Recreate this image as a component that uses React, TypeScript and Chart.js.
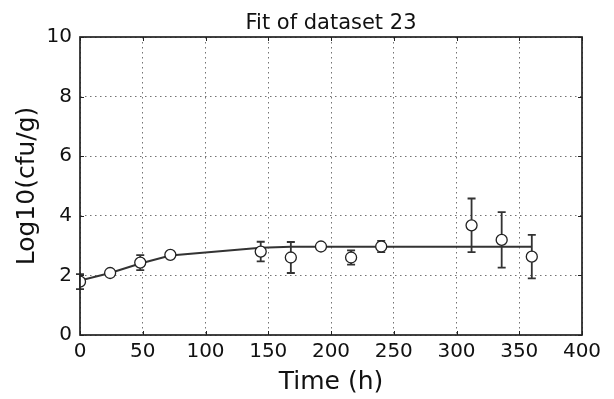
import React, { useEffect, useRef } from "react";
import { Chart, registerables } from "chart.js";

Chart.register(...registerables);

const times = [0, 24, 48, 72, 144, 168, 192, 216, 240, 312, 336, 360];
const observed = [1.79, 2.08, 2.43, 2.69, 2.80, 2.60, 2.97, 2.60, 2.97, 3.68, 3.19, 2.63];
const errors = [0.25, 0.0, 0.25, 0.0, 0.33, 0.52, 0.0, 0.24, 0.19, 0.9, 0.93, 0.73];
const fitted = [1.83, 2.08, 2.40, 2.67, 2.93, 2.96, 2.96, 2.96, 2.96, 2.96, 2.96, 2.96];
const xTicks = [0, 50, 100, 150, 200, 250, 300, 350, 400];
const yTicks = [0, 2, 4, 6, 8, 10];
const titleText = "Fit of dataset 23";
const xLabel = "Time (h)";
const yLabel = "Log10(cfu/g)";

const FONT = "'DejaVu Sans', sans-serif";

const framePlugin = {
  id: "frameAndExtras",
  beforeDatasetDraw(chart: any, args: any) {
    if (args.index !== 0) return;
    const ctx = chart.ctx;
    const xs = chart.scales.x;
    const ys = chart.scales.y;
    ctx.save();
    ctx.strokeStyle = "#333";
    ctx.lineWidth = 1.8;
    for (let i = 0; i < times.length; i++) {
      const e = errors[i];
      if (!e) continue;
      const px = xs.getPixelForValue(times[i]);
      const pt = ys.getPixelForValue(observed[i] + e);
      const pb = ys.getPixelForValue(observed[i] - e);
      ctx.beginPath();
      ctx.moveTo(px, pt);
      ctx.lineTo(px, pb);
      ctx.moveTo(px - 4, pt);
      ctx.lineTo(px + 4, pt);
      ctx.moveTo(px - 4, pb);
      ctx.lineTo(px + 4, pb);
      ctx.stroke();
    }
    ctx.restore();
  },
  afterDraw(chart: any) {
    const ctx = chart.ctx;
    const a = chart.chartArea;
    const xs = chart.scales.x;
    const ys = chart.scales.y;
    ctx.save();
    ctx.strokeStyle = "#222";
    ctx.lineWidth = 1;
    for (const t of xTicks) {
      const px = Math.round(xs.getPixelForValue(t)) + 0.5;
      ctx.beginPath();
      ctx.moveTo(px, a.bottom);
      ctx.lineTo(px, a.bottom - 4);
      ctx.moveTo(px, a.top);
      ctx.lineTo(px, a.top + 4);
      ctx.stroke();
    }
    for (const t of yTicks) {
      const py = Math.round(ys.getPixelForValue(t)) + 0.5;
      ctx.beginPath();
      ctx.moveTo(a.left, py);
      ctx.lineTo(a.left + 4, py);
      ctx.moveTo(a.right, py);
      ctx.lineTo(a.right - 4, py);
      ctx.stroke();
    }
    ctx.strokeStyle = "#222";
    ctx.lineWidth = 1.7;
    ctx.strokeRect(a.left, a.top, a.right - a.left, a.bottom - a.top);
    ctx.fillStyle = "#111";
    ctx.font = `21px ${FONT}`;
    ctx.textAlign = "center";
    ctx.textBaseline = "alphabetic";
    ctx.fillText(titleText, (a.left + a.right) / 2, 29);
    ctx.restore();
  },
};

export default function App() {
  const ref = useRef<HTMLCanvasElement>(null);
  useEffect(() => {
    document.body.style.margin = "0";
    const canvas = ref.current!;
    const chart = new Chart(canvas, {
      type: "scatter",
      data: {
        datasets: [
          {
            label: "observed",
            data: times.map((t, i) => ({ x: t, y: observed[i] })),
            pointRadius: 5.5,
            pointBackgroundColor: "#ffffff",
            pointBorderColor: "#222",
            pointBorderWidth: 1.3,
            showLine: false,
          },
          {
            label: "fit",
            data: times.map((t, i) => ({ x: t, y: fitted[i] })),
            showLine: true,
            borderColor: "#333",
            borderWidth: 2,
            pointRadius: 0,
            tension: 0,
          },
        ],
      },
      options: {
        responsive: false,
        animation: false,
        layout: { padding: { top: 37, right: 32, left: 0, bottom: 0 } },
        plugins: {
          legend: { display: false },
          tooltip: { enabled: false },
          title: { display: false },
        },
        scales: {
          x: {
            type: "linear",
            min: 0,
            max: 400,
            afterBuildTicks: (s: any) => {
              s.ticks = xTicks.map((v) => ({ value: v }));
            },
            afterFit: (s: any) => {
              s.height = 64;
            },
            ticks: {
              color: "#111",
              font: { family: FONT, size: 20 },
              padding: 5,
              maxRotation: 0,
              autoSkip: false,
            },
            grid: {
              color: "rgba(0,0,0,0.55)",
              lineWidth: 1,
              drawTicks: false,
            },
            border: { display: false, dash: [1.5, 3.5] },
            title: {
              display: true,
              text: xLabel,
              color: "#111",
              font: { family: FONT, size: 25 },
              padding: { top: 0, bottom: 2 },
            },
          },
          y: {
            type: "linear",
            min: 0,
            max: 10,
            afterBuildTicks: (s: any) => {
              s.ticks = yTicks.map((v) => ({ value: v }));
            },
            afterFit: (s: any) => {
              s.width = 80;
            },
            ticks: {
              color: "#111",
              font: { family: FONT, size: 20 },
              padding: 8,
            },
            grid: {
              color: "rgba(0,0,0,0.55)",
              lineWidth: 1,
              drawTicks: false,
            },
            border: { display: false, dash: [1.5, 3.5] },
            title: {
              display: true,
              text: yLabel,
              color: "#111",
              font: { family: FONT, size: 25 },
              padding: { top: 12, bottom: 0 },
            },
          },
        },
      },
      plugins: [framePlugin],
    });
    return () => chart.destroy();
  }, []);
  return (
    <div style={{ position: "absolute", left: 0, top: 0, width: 614, height: 399, background: "#fff" }}>
      <canvas ref={ref} width={614} height={399} />
    </div>
  );
}
